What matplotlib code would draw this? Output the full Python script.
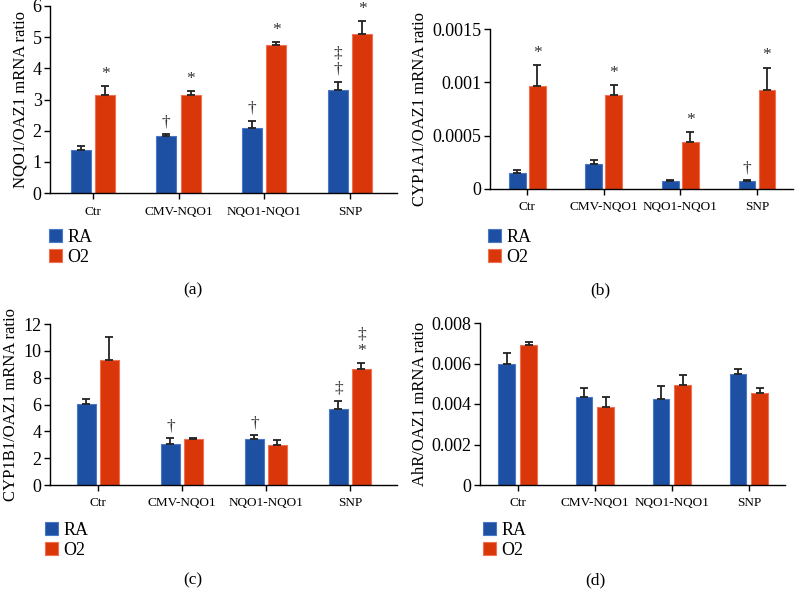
import numpy as np
import matplotlib
matplotlib.use("Agg")
from matplotlib import pyplot as plt

plt.rcParams['font.family'] = ['Liberation Serif', 'DejaVu Serif']

groups = ['Ctr', 'CMV-NQO1', 'NQO1-NQO1', 'SNP']
series = ['RA', 'O2']
blue = '#1d4fa3'
red = '#d9360a'

# (a) NQO1
nqo1_ra = [1.38, 1.82, 2.10, 3.32]
nqo1_ra_top = [1.50, 1.88, 2.32, 3.57]
nqo1_o2 = [3.13, 3.16, 4.75, 5.10]
nqo1_o2_top = [3.42, 3.27, 4.83, 5.52]
nqo1_ra_marks = ['', '†', '†', '‡\n†']
nqo1_o2_marks = ['*', '*', '*', '*']

# (b) CYP1A1
cyp1a1_ra = [0.000154, 0.000232, 0.0000785, 0.0000753]
cyp1a1_ra_top = [0.000182, 0.000276, 0.000088, 0.000082]
cyp1a1_o2 = [0.00097, 0.000879, 0.000436, 0.000926]
cyp1a1_o2_top = [0.001158, 0.000973, 0.000533, 0.001139]
cyp1a1_ra_marks = ['', '', '', '†']
cyp1a1_o2_marks = ['*', '*', '*', '*']

# (c) CYP1B1
cyp1b1_ra = [6.02, 3.06, 3.44, 5.63]
cyp1b1_ra_top = [6.40, 3.49, 3.71, 6.27]
cyp1b1_o2 = [9.31, 3.41, 2.96, 8.61]
cyp1b1_o2_top = [11.0, 3.51, 3.34, 9.09]
cyp1b1_ra_marks = ['', '†', '†', '‡']
cyp1b1_o2_marks = ['', '', '', '‡\n*']

# (d) AhR
ahr_ra = [0.00596, 0.00435, 0.00425, 0.00547]
ahr_ra_top = [0.00652, 0.00478, 0.00489, 0.00573]
ahr_o2 = [0.00691, 0.00383, 0.00493, 0.00452]
ahr_o2_top = [0.00708, 0.00437, 0.00545, 0.00481]

W, H = 795, 590


def px_axes(l, t, r, b):
    return [l / W, 1 - b / H, (r - l) / W, (b - t) / H]


def panel(fig, rect, ra, ra_top, o2, o2_top, ra_marks, o2_marks,
          ylim, yticks, yticklabels, ylabel, xlim, width, off, letter,
          leg_xy, lab_xy):
    ax = fig.add_axes(px_axes(*rect))
    x = np.arange(len(groups))
    ra = np.array(ra)
    o2 = np.array(o2)
    ra_err = np.array(ra_top) - ra
    o2_err = np.array(o2_top) - o2
    ekw = dict(elinewidth=1.3, capthick=1.3, ecolor='#222222')
    ax.bar(x - off, ra, width, color=blue, edgecolor='#4a78c8', linewidth=0.8,
           yerr=[np.zeros_like(ra), ra_err], capsize=3, error_kw=ekw, label=series[0])
    ax.bar(x + off, o2, width, color=red, edgecolor='#f07050', linewidth=0.8,
           yerr=[np.zeros_like(o2), o2_err], capsize=3, error_kw=ekw, label=series[1])

    for i in range(len(groups)):
        for xx, top, m in ((x[i] - off, ra_top[i], ra_marks[i]),
                           (x[i] + off, o2_top[i], o2_marks[i])):
            if m:
                ax.annotate(m, (xx, top), xytext=(0, 3), textcoords='offset points',
                            ha='center', va='bottom', fontsize=12.5, color='#333333',
                            linespacing=1.0)

    ax.set_xlim(*xlim)
    ax.set_ylim(*ylim)
    ax.set_yticks(yticks)
    ax.set_yticklabels(yticklabels, fontsize=13)
    ax.set_xticks(x)
    ax.set_xticklabels(groups, fontsize=9.5)
    ax.set_ylabel(ylabel, fontsize=12, labelpad=3)
    for s in ('top', 'right'):
        ax.spines[s].set_visible(False)
    for s in ('left', 'bottom'):
        ax.spines[s].set_linewidth(1.0)
    ax.tick_params(axis='both', direction='out', length=4, width=1.0)
    ax.tick_params(axis='y', pad=2)
    ax.tick_params(axis='x', pad=5)

    fig.legend(handles=ax.patches[:1] + ax.patches[4:5], labels=series,
               loc='upper left', bbox_to_anchor=(leg_xy[0] / W, 1 - leg_xy[1] / H),
               frameon=False, fontsize=13, handlelength=0.7, handleheight=0.7,
               handletextpad=0.3, labelspacing=0.15, borderpad=0, borderaxespad=0)
    fig.text(lab_xy[0] / W, 1 - lab_xy[1] / H, letter, ha='center', va='center',
             fontsize=12.5)
    return ax


fig = plt.figure(figsize=(W / 100, H / 100), dpi=100)

panel(fig, (50, 6, 397, 193), nqo1_ra, nqo1_ra_top, nqo1_o2, nqo1_o2_top,
      nqo1_ra_marks, nqo1_o2_marks, (0, 6), [0, 1, 2, 3, 4, 5, 6],
      ['0', '1', '2', '3', '4', '5', '6'], 'NQO1/OAZ1 mRNA ratio',
      (-0.5, 3.55), 0.233, 0.143, '(a)', (49, 229), (193, 290))

panel(fig, (490, 29, 793, 189), cyp1a1_ra, cyp1a1_ra_top, cyp1a1_o2, cyp1a1_o2_top,
      cyp1a1_ra_marks, cyp1a1_o2_marks, (0, 0.0015), [0, 0.0005, 0.001, 0.0015],
      ['0', '0.0005', '0.001', '0.0015'], 'CYP1A1/OAZ1 mRNA ratio',
      (-0.485, 3.47), 0.22, 0.13, '(b)', (488, 229), (600, 290))

panel(fig, (50, 324, 397, 485), cyp1b1_ra, cyp1b1_ra_top, cyp1b1_o2, cyp1b1_o2_top,
      cyp1b1_ra_marks, cyp1b1_o2_marks, (0, 12), [0, 2, 4, 6, 8, 10, 12],
      ['0', '2', '4', '6', '8', '10', '12'], 'CYP1B1/OAZ1 mRNA ratio',
      (-0.57, 3.56), 0.226, 0.137, '(c)', (45, 522), (193, 580))

panel(fig, (480, 323, 785, 485), ahr_ra, ahr_ra_top, ahr_o2, ahr_o2_top,
      ['', '', '', ''], ['', '', '', ''], (0, 0.008),
      [0, 0.002, 0.004, 0.006, 0.008], ['0', '0.002', '0.004', '0.006', '0.008'],
      'AhR/OAZ1 mRNA ratio', (-0.49, 3.47), 0.22, 0.14, '(d)', (483, 522), (595, 580))

fig.savefig('out.png', dpi=100)
